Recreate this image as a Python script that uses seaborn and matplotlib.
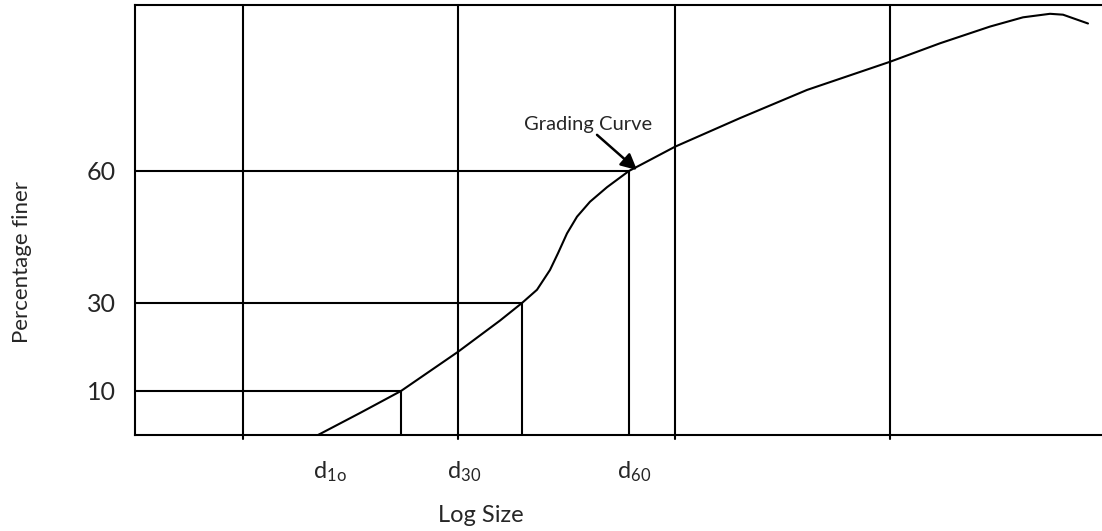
import matplotlib
matplotlib.use("Agg")
import matplotlib.pyplot as plt
import seaborn as sns
import pandas as pd

# ---- data ----
curve_x = [18.3, 22.5, 26.6, 32.3, 36.5, 38.7, 40.2, 41.5, 42.3, 43.2, 44.2, 45.5,
           47.2, 49.4, 50.5, 54.0, 60.5, 67.2, 75.5, 80.5, 85.5, 88.8, 91.5, 92.8,
           93.8, 95.3]
curve_y = [0.0, 5.0, 10.0, 18.9, 26.0, 30.0, 33.0, 37.5, 41.3, 45.8, 49.6, 53.0,
           56.3, 60.0, 61.3, 65.5, 72.0, 78.4, 84.8, 89.0, 92.8, 94.9, 95.7, 95.5,
           94.7, 93.5]
grid_x = [10.8, 32.3, 54.0, 75.5]
d_values = [10, 30, 60]
d_x = [26.6, 38.7, 49.4]
d_labels = [r"d$_{\mathrm{1o}}$", r"d$_{\mathrm{30}}$", r"d$_{\mathrm{60}}$"]
d_label_x = [19.5, 32.9, 49.9]
ytick_values = [10, 30, 60]
ytick_labels = ["10", "30", "60"]
annotation_text = "Grading Curve"
x_title = "Log Size"
y_title = "Percentage finer"

sns.set_theme(style="white")
plt.rcParams["font.family"] = ["Lato", "DejaVu Sans"]
plt.rcParams["mathtext.fontset"] = "custom"
plt.rcParams["mathtext.rm"] = "Lato"
plt.rcParams["mathtext.it"] = "Lato"

fig = plt.figure(figsize=(11.02, 5.31), dpi=100)
ax = fig.add_axes([135 / 1102, (531 - 435) / 531, (1102 - 135) / 1102, (435 - 5) / 531])
ax.set_xlim(0, 96.7)
ax.set_ylim(0, 97.7)

lw = 1.5
col = "black"
for gx in grid_x:
    ax.plot([gx, gx], [-0.8, 97.7], color=col, lw=lw, clip_on=False)

for v, x in zip(d_values, d_x):
    ax.plot([0, x], [v, v], color=col, lw=lw)
    ax.plot([x, x], [0, v], color=col, lw=lw)

df = pd.DataFrame({"x": curve_x, "y": curve_y})
sns.lineplot(data=df, x="x", y="y", ax=ax, color=col, lw=lw, sort=False)

ax.text(45.3, 69.3, annotation_text, ha="center", va="baseline", fontsize=14.5)
ax.annotate("", xy=(50.2, 60.2), xytext=(46.2, 68.2),
            arrowprops=dict(arrowstyle="-|>", color=col, lw=1.8, mutation_scale=24,
                            shrinkA=0, shrinkB=0))

for lab, x in zip(d_labels, d_label_x):
    ax.text(x, -9.8, lab, ha="center", va="baseline", fontsize=17)

ax.set_xticks([])
ax.set_yticks(ytick_values)
ax.set_yticklabels(ytick_labels, fontsize=18)
ax.tick_params(axis="y", length=0, pad=14)
ax.set_xlabel("")
ax.set_ylabel("")
ax.text((481 - 135) / 967, (435 - 515) / 430, x_title, transform=ax.transAxes,
        ha="center", va="center", fontsize=17)
ax.text((22 - 135) / 967, (435 - 262) / 430, y_title, transform=ax.transAxes,
        ha="center", va="center", rotation=90, fontsize=16)

for s in ["left", "top", "bottom"]:
    ax.spines[s].set_visible(True)
    ax.spines[s].set_color(col)
    ax.spines[s].set_linewidth(lw)
ax.spines["right"].set_visible(False)

fig.savefig("out.png", dpi=100, facecolor="white")
